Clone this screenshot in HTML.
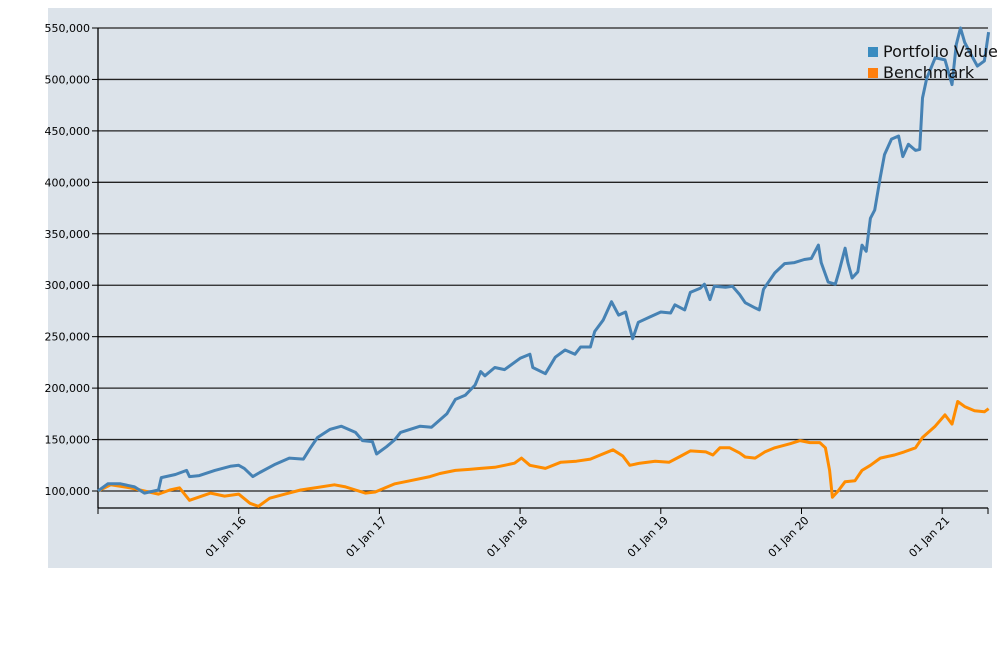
<!DOCTYPE html>
<html><head><meta charset="utf-8"><style>
html,body{margin:0;padding:0;background:#fff;width:1000px;height:650px;overflow:hidden}
svg{display:block;font-family:"DejaVu Sans","Liberation Sans",sans-serif}
</style></head><body>
<svg id="chart" width="1000" height="650" xmlns="http://www.w3.org/2000/svg">
<rect x="48" y="8" width="944" height="560" fill="#dce3ea"/>
<g id="grid"></g><g id="axes"></g><g id="series"></g>
<g>
<rect x="868" y="47" width="10" height="10" fill="#3a8cc0"/>
<text x="883" y="57" font-size="16" fill="#111">Portfolio Value</text>
<rect x="868" y="68" width="10" height="10" fill="#ff7f0e"/>
<text x="883" y="78" font-size="16" fill="#111">Benchmark</text>
</g>
</svg>
<script>
const yTicks=[100000,150000,200000,250000,300000,350000,400000,450000,500000,550000];
const xTickYears=[2016,2017,2018,2019,2020,2021];
const xTickLabels=["01 Jan 16","01 Jan 17","01 Jan 18","01 Jan 19","01 Jan 20","01 Jan 21"];
const portT=[2015.00,2015.07,2015.16,2015.26,2015.33,2015.43,2015.45,2015.55,2015.63,2015.65,2015.72,2015.83,2015.94,2016.00,2016.04,2016.10,2016.15,2016.26,2016.36,2016.46,2016.51,2016.56,2016.65,2016.73,2016.83,2016.88,2016.95,2016.98,2017.05,2017.11,2017.15,2017.22,2017.29,2017.37,2017.48,2017.54,2017.61,2017.68,2017.72,2017.75,2017.82,2017.89,2018.00,2018.07,2018.09,2018.18,2018.25,2018.32,2018.39,2018.43,2018.50,2018.53,2018.59,2018.65,2018.70,2018.75,2018.80,2018.84,2018.92,2019.00,2019.07,2019.10,2019.17,2019.21,2019.28,2019.31,2019.35,2019.38,2019.46,2019.51,2019.56,2019.60,2019.67,2019.70,2019.73,2019.81,2019.88,2019.95,2020.02,2020.07,2020.12,2020.14,2020.19,2020.24,2020.27,2020.31,2020.33,2020.36,2020.40,2020.43,2020.46,2020.49,2020.52,2020.56,2020.59,2020.64,2020.69,2020.72,2020.76,2020.81,2020.84,2020.86,2020.89,2020.95,2021.02,2021.07,2021.10,2021.13,2021.16,2021.21,2021.25,2021.30,2021.33];
const portV=[100,107,107,104,98,101,113,116,120,114,115,120,124,125,122,114,118,126,132,131,142,152,160,163,157,149,148,136,143,150,157,160,163,162,175,189,193,203,216,212,220,218,229,233,220,214,230,237,233,240,240,255,266,284,271,274,248,264,269,274,273,281,276,293,297,301,286,299,298,299,291,283,278,276,296,312,321,322,325,326,339,322,303,301,315,336,322,307,313,339,333,365,373,405,427,442,445,425,437,431,432,482,501,521,519,495,534,550,536,523,513,518,546];
const benchT=[2015.00,2015.09,2015.23,2015.33,2015.43,2015.51,2015.58,2015.65,2015.80,2015.90,2016.00,2016.08,2016.14,2016.22,2016.33,2016.44,2016.54,2016.68,2016.76,2016.83,2016.90,2016.97,2017.04,2017.11,2017.22,2017.36,2017.43,2017.54,2017.64,2017.72,2017.82,2017.89,2017.96,2018.01,2018.07,2018.18,2018.29,2018.40,2018.50,2018.57,2018.66,2018.73,2018.78,2018.85,2018.96,2019.06,2019.13,2019.21,2019.32,2019.37,2019.42,2019.49,2019.56,2019.60,2019.67,2019.74,2019.81,2019.92,2019.99,2020.06,2020.13,2020.17,2020.20,2020.22,2020.26,2020.31,2020.38,2020.43,2020.49,2020.56,2020.66,2020.73,2020.81,2020.86,2020.95,2021.02,2021.07,2021.11,2021.16,2021.23,2021.30,2021.33];
const benchV=[100,106,103,100,97,101,103,91,98,95,97,88,85,93,97,101,103,106,104,101,98,99,103,107,110,114,117,120,121,122,123,125,127,132,125,122,128,129,131,135,140,134,125,127,129,128,133,139,138,135,142,142,137,133,132,138,142,146,149,147,147,142,120,94,100,109,110,120,125,132,135,138,142,152,163,174,165,187,182,178,177,180];
const X0=98,X1=988,Y0=508,YT=28;
const tMin=2015.0,tMax=2021.3256;
const vMin=550000-(508-28)/(491-28)*450000;
const xs=t=>X0+(t-tMin)/(tMax-tMin)*(X1-X0);
const ys=v=>Y0-(v-vMin)/(550000-vMin)*(Y0-YT);
const NS="http://www.w3.org/2000/svg";
function mk(tag,attrs,parent){const e=document.createElementNS(NS,tag);for(const k in attrs)e.setAttribute(k,attrs[k]);parent.appendChild(e);return e;}
const grid=document.getElementById('grid'),axes=document.getElementById('axes'),ser=document.getElementById('series');
yTicks.forEach((v,i)=>{
 const y=ys(v);
 const l=mk('line',{x1:X0,x2:X1,y1:y,y2:y,stroke:'#222','stroke-width':1.3},grid);
 
 
 const tk=mk('line',{x1:X0-6,x2:X0,y1:y,y2:y,stroke:'#000','stroke-width':1},axes);
 
 
 const t=mk('text',{x:X0-8,y:y+4,'text-anchor':'end','font-size':11,fill:'#000'},axes);
 t.textContent=v.toLocaleString('en-US');
 
 
});
const ya=mk('line',{x1:X0,x2:X0,y1:YT,y2:Y0,stroke:'#000','stroke-width':1.3},axes);


const xa=mk('line',{x1:X0,x2:X1,y1:Y0,y2:Y0,stroke:'#000','stroke-width':1.3},axes);


[tMin].concat(xTickYears).concat([tMax]).forEach(t=>{
 const x=xs(t);
 const tk=mk('line',{x1:x,x2:x,y1:Y0,y2:Y0+6,stroke:'#000','stroke-width':1},axes);
 
 
});
xTickYears.forEach((t,i)=>{
 const x=xs(t)+8;
 const tx=mk('text',{x:x,y:Y0+13,'text-anchor':'end','font-size':11,fill:'#000',transform:`rotate(-45 ${x} ${Y0+13})`},axes);
 tx.textContent=xTickLabels[i];
 
 
});
function line(T,V,color,name){
 const d=T.map((t,i)=>(i?'L':'M')+xs(t).toFixed(1)+','+ys(V[i]*1000).toFixed(1)).join('');
 const p=mk('path',{d:d,fill:'none',stroke:color,'stroke-width':3,'stroke-linejoin':'round'},ser);
 
 
}
line(benchT,benchV,'#ff8c00','benchmark-line');
line(portT,portV,'#4682b4','portfolio-value-line');
</script>
</body></html>
